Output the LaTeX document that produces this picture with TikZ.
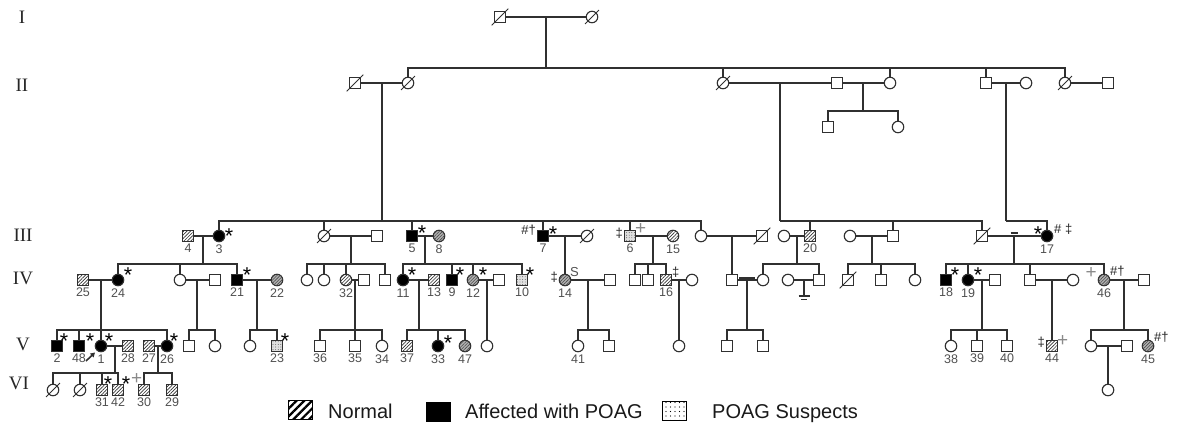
\documentclass[tikz,border=0pt]{standalone}
\usepackage{fontspec}
\setmainfont{Liberation Sans}
\newfontfamily\genfont{Liberation Serif}
\usetikzlibrary{patterns.meta,arrows.meta}
\definecolor{lc}{HTML}{303030}
\definecolor{numc}{HTML}{505050}
\definecolor{plusc}{HTML}{8A8A8A}
\tikzset{
  ln/.style={draw=lc,line width=1.15pt},
  per/.style={draw=lc,line width=1.15pt,inner sep=0pt,fill=white},
  sq/.style={per,rectangle,minimum size=10.5pt},
  ci/.style={per,circle,minimum size=11.5pt},
  aff/.style={fill=black},
  nor/.style={postaction={pattern={Lines[angle=45,distance=2.4pt,line width=0.7pt]},pattern color=black!80}},
  gry/.style={fill=gray!60,postaction={pattern={Lines[angle=45,distance=2.2pt,line width=0.6pt]},pattern color=black!70}},
  sus/.style={fill=gray!25,postaction={pattern={Dots[distance=2.6pt,radius=0.45pt]},pattern color=black!75}},
  lab/.style={font=\fontsize{12.5}{13}\selectfont,text=numc,inner sep=0pt},
  astn/.style={anchor=base,inner sep=0pt,font=\fontsize{21.5}{22}\selectfont,text=black},
  annt/.style={inner sep=0pt,font=\fontsize{13}{13}\selectfont,text=black!85},
  plust/.style={inner sep=0pt,font=\fontsize{19}{19}\selectfont,text=plusc},
  genl/.style={font=\genfont\fontsize{19}{20}\selectfont,text=black!85,inner sep=0pt},
  lgbox/.style={draw=black,line width=1pt,minimum width=24pt,minimum height=19pt,inner sep=0pt,fill=white},
  legt/.style={inner sep=0pt,font=\fontsize{20}{24}\selectfont,text=black!90}
}
\newcommand\pfam[3]{\draw[ln] (#1) -- (#2);\foreach \ch in {#3}{\draw[ln] (#2) -- (\ch.north |- #2) -- (\ch.north);}}
\newcommand\pdsl[1]{\draw[draw=lc,line width=1pt] ([shift={(-2.5,2.5)}]#1.south west) -- ([shift={(2.5,-2.5)}]#1.north east);}
\newcommand\pst[3]{\node[astn] at ([shift={(#2,#3+12.6)}]#1.center) {*};}
\newcommand\pan[5]{\node[annt,anchor=base #2] at ([shift={(#3,#4+4.6)}]#1.center) {#5};}
\newcommand\ppl[4]{\node[plust,anchor=base #2] at ([shift={(#3,#4+6.3)}]#1.center) {+};}
\begin{document}
\begin{tikzpicture}[x=1pt,y=-1pt,label distance=2pt,every label/.style={lab}]
\useasboundingbox (0,0) rectangle (1180,425);
% generation labels
\node[genl] (gI) at (22,17) {I};
\node[genl] (gII) at (22,85) {II};
\node[genl] (gIII) at (23,235) {III};
\node[genl] (gIV) at (23,278) {IV};
\node[genl] (gV) at (23,344) {V};
\node[genl] (gVI) at (19,383) {VI};
% ---------- Generation I
\node[sq] (I1) at (500,17) {};
\node[ci] (I2) at (592,17) {};
\draw[ln] (I1) -- (I2);
\coordinate (m1) at (546,17); \coordinate (s1) at (546,68);
% ---------- Generation II
\node[sq] (II1) at (355,83) {};
\node[ci] (II2) at (408,83) {};
\node[ci] (II3) at (723,83) {};
\node[sq] (II4) at (837,83) {};
\node[ci] (II5) at (890,83) {};
\node[sq] (II6) at (986,83) {};
\node[ci] (II7) at (1026,83) {};
\node[ci] (II8) at (1065,83) {};
\node[sq] (II11) at (1108,83) {};
\node[sq] (II9) at (828,127) {};
\node[ci] (II10) at (898,127) {};
\draw[ln] (II1) -- (II2);
\draw[ln] (II3) -- (II4);
\draw[ln] (II4) -- (II5);
\draw[ln] (II6) -- (II7);
\draw[ln] (II8) -- (II11);
\coordinate (m2) at (382,83); \coordinate (s2) at (382,221);
\coordinate (m3) at (780,83); \coordinate (s3) at (780,221);
\coordinate (m4) at (863,83); \coordinate (s4) at (863,111);
\coordinate (m5) at (1006,83); \coordinate (s5) at (1006,221);
% ---------- Generation III
\node[sq,nor,label=below:4] (n4) at (188,236) {};
\node[ci,aff,label=below:3] (n3) at (219,236) {};
\node[ci] (c324) at (324,236) {};
\node[sq] (s377) at (377,236) {};
\node[sq,aff,label=below:5] (n5) at (412,236) {};
\node[ci,gry,label=below:8] (n8) at (439,236) {};
\node[sq,aff,label=below:7] (n7) at (543,236) {};
\node[ci] (w7) at (587,236) {};
\node[sq,sus,label=below:6] (n6) at (630,236) {};
\node[ci,nor,label=below:15] (n15) at (673,236) {};
\node[ci] (c701) at (701,236) {};
\node[sq] (s762) at (762,236) {};
\node[ci] (c784) at (784,236) {};
\node[sq,nor,label=below:20] (n20) at (810,236) {};
\node[ci] (c850) at (850,236) {};
\node[sq] (s893) at (893,236) {};
\node[sq] (s982) at (982,236) {};
\node[ci,aff,label=below:17] (n17) at (1047,236) {};
\draw[ln] (n4) -- (n3);
\draw[ln] (c324) -- (s377);
\draw[ln] (n5) -- (n8);
\draw[ln] (n7) -- (w7);
\draw[ln] (n6) -- (n15);
\draw[ln] (c701) -- (s762);
\draw[ln] (c784) -- (n20);
\draw[ln] (c850) -- (s893);
\draw[ln] (s982) -- (n17);
\coordinate (t17) at (1014,233);
\draw[ln] ([xshift=-3.5pt]t17) -- ([xshift=3.5pt]t17);
\coordinate (m6) at (203,236); \coordinate (s6) at (203,264);
\coordinate (m7) at (351,236); \coordinate (s7) at (351,264);
\coordinate (m8) at (425,236); \coordinate (s8) at (425,264);
\coordinate (m9) at (565,236); \coordinate (s9) at (565,264);
\coordinate (m10) at (653,236); \coordinate (s10) at (653,264);
\coordinate (m11) at (732,236); \coordinate (s11) at (732,264);
\coordinate (m12) at (797,236); \coordinate (s12) at (797,264);
\coordinate (m13) at (872,236); \coordinate (s13) at (872,264);
\coordinate (m14) at (1014,236); \coordinate (s14) at (1014,264);
% ---------- Generation IV
\node[sq,nor,label=below:25] (n25) at (83,280) {};
\node[ci,aff,label=below:24] (n24) at (118,280) {};
\node[ci] (c180) at (180,280) {};
\node[sq] (s215) at (215,280) {};
\node[sq,aff,label=below:21] (n21) at (237,280) {};
\node[ci,gry,label=below:22] (n22) at (277,280) {};
\node[ci] (c307) at (307,280) {};
\node[ci] (c324b) at (324,280) {};
\node[ci,nor,label=below:32] (n32) at (346,280) {};
\node[sq] (s363) at (364,280) {};
\node[sq] (s385) at (385,280) {};
\node[ci,aff,label=below:11] (n11) at (403,280) {};
\node[sq,nor,label=below:13] (n13) at (434,280) {};
\node[sq,aff,label=below:9] (n9) at (452,280) {};
\node[ci,gry,label=below:12] (n12) at (473,280) {};
\node[sq] (s499) at (499,280) {};
\node[sq,sus,label=below:10] (n10) at (522,280) {};
\node[ci,gry,label=below:14] (n14) at (565,280) {};
\node[sq] (s610) at (610,280) {};
\node[sq] (s635) at (635,280) {};
\node[sq] (s648) at (648,280) {};
\node[sq,nor,label=below:16] (n16) at (666,280) {};
\node[ci] (c692) at (692,280) {};
\node[sq] (s732) at (732,280) {};
\node[ci] (c763) at (763,280) {};
\node[ci] (c788) at (788,280) {};
\node[sq] (s819) at (819,280) {};
\node[sq] (s848) at (848,280) {};
\node[sq] (s881) at (881,280) {};
\node[ci] (c915) at (915,280) {};
\node[sq,aff,label=below:18] (n18) at (946,280) {};
\node[ci,aff,label=below:19] (n19) at (968,280) {};
\node[sq] (s995) at (995,280) {};
\node[sq] (s1030) at (1030,280) {};
\node[ci] (c1073) at (1073,280) {};
\node[ci,gry,label=below:46] (n46) at (1104,280) {};
\node[sq] (s1144) at (1144,280) {};
\draw[ln] (n25) -- (n24);
\draw[ln] (c180) -- (s215);
\draw[ln] (n21) -- (n22);
\draw[ln] (n32) -- (s363);
\draw[ln] (n11) -- (n13);
\draw[ln] (n12) -- (s499);
\draw[ln] (n14) -- (s610);
\draw[ln] (n16) -- (c692);
\draw[ln] (s732) -- (c763);
\coordinate (cs) at (747,278);
\draw[ln,line width=1.6pt] ([xshift=-8pt]cs) -- ([xshift=8pt]cs);
\draw[ln] (c788) -- (s819);
\draw[ln] (n19) -- (s995);
\draw[ln] (s1030) -- (c1073);
\draw[ln] (n46) -- (s1144);
\coordinate (m15) at (101,280); \coordinate (s15) at (101,330);
\coordinate (m16) at (197,280); \coordinate (s16) at (197,330);
\coordinate (m17) at (257,280); \coordinate (s17) at (257,330);
\coordinate (m18) at (355,280); \coordinate (s18) at (355,330);
\coordinate (m19) at (419,280); \coordinate (s19) at (419,330);
\coordinate (m20) at (487,280); \coordinate (s20) at (487,330);
\coordinate (m21) at (588,280); \coordinate (s21) at (588,330);
\coordinate (m22) at (679,280); \coordinate (s22) at (679,330);
\coordinate (m23) at (747,280); \coordinate (s23) at (747,330);
\coordinate (m24) at (804,280); \coordinate (nc) at (804,296);
\coordinate (m25) at (982,280); \coordinate (s25) at (982,330);
\coordinate (m26) at (1052,280); \coordinate (s26) at (1052,330);
\coordinate (m27) at (1124,280); \coordinate (s27) at (1124,330);
\draw[ln] (m24) -- (nc);
\draw[ln] ([xshift=-5.5pt]nc) -- ([xshift=5.5pt]nc);
\draw[ln,line width=1pt] ([shift={(-3,3.2)}]nc) -- ([shift={(3,3.2)}]nc);
% ---------- Generation V
\node[sq,aff,label=below:2] (n2) at (57,346) {};
\node[sq,aff,label=below:48] (n48) at (79,346) {};
\node[ci,aff,label=below:1] (n1) at (101,346) {};
\node[sq,nor,label=below:28] (n28) at (128,346) {};
\node[sq,nor,label=below:27] (n27) at (149,346) {};
\node[ci,aff,label=below:26] (n26) at (167,346) {};
\node[sq] (s188) at (189,346) {};
\node[ci] (c215) at (215,346) {};
\node[ci] (c250) at (250,346) {};
\node[sq,sus,label=below:23] (n23) at (277,346) {};
\node[sq,label=below:36] (n36) at (320,346) {};
\node[sq,label=below:35] (n35) at (355,346) {};
\node[ci,label=below:34] (n34) at (382,346) {};
\node[sq,nor,label=below:37] (n37) at (407,346) {};
\node[ci,aff,label=below:33] (n33) at (438,346) {};
\node[ci,gry,label=below:47] (n47) at (465,346) {};
\node[ci] (c487) at (487,346) {};
\node[ci,label=below:41] (n41) at (578,346) {};
\node[sq] (s609) at (609,346) {};
\node[ci] (c679) at (679,346) {};
\node[sq] (s727) at (727,346) {};
\node[sq] (s763) at (763,346) {};
\node[ci,label=below:38] (n38) at (951,346) {};
\node[sq,label=below:39] (n39) at (977,346) {};
\node[sq,label=below:40] (n40) at (1007,346) {};
\node[sq,nor,label=below:44] (n44) at (1052,346) {};
\node[ci] (c1091) at (1091,346) {};
\node[sq] (s1127) at (1127,346) {};
\node[ci,gry,label=below:45] (n45) at (1148,346) {};
\draw[ln] (n1) -- (n28);
\draw[ln] (n27) -- (n26);
\draw[ln] (c1091) -- (s1127);
\coordinate (m28) at (115,346); \coordinate (s28) at (115,373);
\coordinate (m29) at (158,346); \coordinate (s29) at (158,373);
\coordinate (m30) at (1108,346); \coordinate (s30) at (1108,373);
% ---------- Generation VI
\node[ci] (v53) at (53,390) {};
\node[ci] (v80) at (80,390) {};
\node[sq,nor,label=below:31] (n31) at (102,390) {};
\node[sq,nor,label=below:42] (n42) at (118,390) {};
\node[sq,nor,label=below:30] (n30) at (144,390) {};
\node[sq,nor,label=below:29] (n29) at (172,390) {};
\node[ci] (c1108) at (1108,390) {};
% ---------- lines of descent
\pfam{m1}{s1}{II2,II3,II5,II6,II8}
\pfam{m4}{s4}{II9,II10}
\pfam{m2}{s2}{n3,c324,n5,n7,n6,c701}
\pfam{m3}{s3}{n20,s893,s982}
\pfam{m5}{s5}{n17}
\pfam{m6}{s6}{n24,c180,n21}
\pfam{m7}{s7}{c307,c324b,n32,s385}
\pfam{m8}{s8}{n11,n9,n12,n10}
\pfam{m9}{s9}{n14}
\pfam{m10}{s10}{s635,s648,n16}
\pfam{m11}{s11}{s732}
\pfam{m12}{s12}{c763,s819}
\pfam{m13}{s13}{s848,s881,c915}
\pfam{m14}{s14}{n18,n19,s1030,n46}
\pfam{m15}{s15}{n2,n48,n1,n26}
\pfam{m16}{s16}{s188,c215}
\pfam{m17}{s17}{c250,n23}
\pfam{m18}{s18}{n36,n35,n34}
\pfam{m19}{s19}{n37,n33,n47}
\pfam{m20}{s20}{c487}
\pfam{m21}{s21}{n41,s609}
\pfam{m22}{s22}{c679}
\pfam{m23}{s23}{s727,s763}
\pfam{m25}{s25}{n38,n39,n40}
\pfam{m26}{s26}{n44}
\pfam{m27}{s27}{c1091,n45}
\pfam{m28}{s28}{v53,v80,n31,n42}
\pfam{m29}{s29}{n30,n29}
\pfam{m30}{s30}{c1108}
% ---------- deceased
\pdsl{I1}\pdsl{I2}\pdsl{II1}\pdsl{II2}\pdsl{II3}\pdsl{II8}
\pdsl{c324}\pdsl{w7}\pdsl{s762}\pdsl{s982}\pdsl{s848}\pdsl{v53}\pdsl{v80}
% ---------- proband arrow
\coordinate (pa) at (86,361);
\draw[lc,line width=1.6pt,-{Triangle[length=4.5pt,width=5pt]}] (pa) -- ([shift={(-1.5,2)}]n1.south west);
% ---------- stars
\pst{n3}{10}{-5}
\pst{n5}{10}{-8}
\pst{n7}{10}{-7}
\pst{n17}{-9}{-7}
\pst{n24}{10}{-10}
\pst{n21}{10}{-10}
\pst{n11}{9}{-10}
\pst{n9}{8}{-10}
\pst{n12}{10}{-10}
\pst{n10}{8}{-10}
\pst{n18}{9}{-10}
\pst{n19}{10}{-10}
\pst{n2}{7}{-10}
\pst{n48}{11}{-10}
\pst{n1}{8}{-10}
\pst{n26}{7}{-10}
\pst{n23}{8}{-10}
\pst{n33}{10}{-8}
\pst{n31}{6}{-11}
\pst{n42}{8}{-11}
% ---------- other marks
\pan{n7}{east}{-7}{-6}{\#†}
\pan{n17}{west}{7}{-7}{\# ‡}
\pan{n6}{east}{-7}{-3}{‡}
\ppl{n6}{west}{5}{-8}
\pan{n14}{east}{-7}{-3}{‡}
\pan{n14}{west}{5}{-8}{\textcolor{numc}{S}}
\pan{n16}{west}{6}{-8}{‡}
\ppl{n46}{east}{-7}{-8}
\pan{n46}{west}{6}{-9}{\#†}
\pan{n44}{east}{-7}{-4}{‡}
\ppl{n44}{west}{5}{-6}
\pan{n45}{west}{6}{-9}{\#†}
\ppl{n42}{west}{13}{-12}
% ---------- legend
\node[lgbox,postaction={pattern={Lines[angle=45,distance=5.5pt,line width=2.2pt]},pattern color=black}] (lg1) at (300,410) {};
\node[legt,anchor=base west] (lt1) at (328,418) {Normal};
\node[lgbox,fill=black] (lg2) at (438,412) {};
\node[legt,anchor=base west] (lt2) at (465,418) {Affected with POAG};
\node[lgbox,postaction={pattern={Dots[distance=4.5pt,radius=0.7pt]},pattern color=black}] (lg3) at (674,411) {};
\node[legt,anchor=base west] (lt3) at (712,418) {POAG Suspects};
\end{tikzpicture}
\end{document}
